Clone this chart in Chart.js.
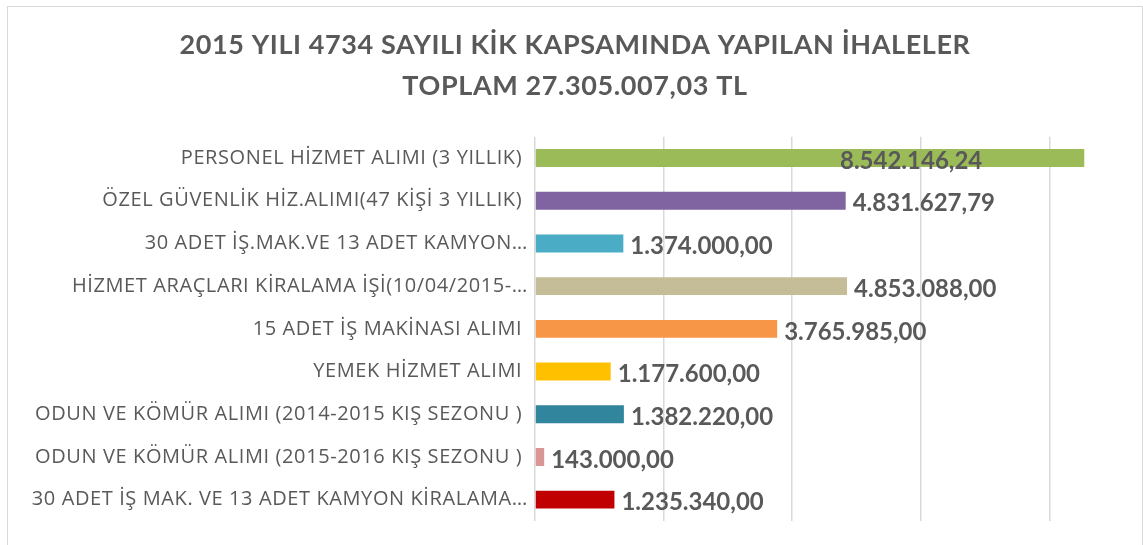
<!DOCTYPE html>
<html lang="tr">
<head>
<meta charset="utf-8">
<title>2015 Yılı 4734 Sayılı KİK Kapsamında Yapılan İhaleler</title>
<script src="https://cdn.jsdelivr.net/npm/chart.js@4"></script>
<style>
    html, body { margin: 0; padding: 0; background: #ffffff; overflow: hidden; }
    #chartBox {
        position: absolute;
        left: 7px;
        top: 6px;
        width: 1134px;
        height: 545px;
        border: 1px solid #d9d9d9;
        background: #ffffff;
    }
</style>
</head>
<body>
<div id="chartBox"><canvas id="ihaleChart"></canvas></div>
<script>
// Chart data
const titleLines = ['2015 YILI 4734 SAYILI KİK KAPSAMINDA YAPILAN İHALELER', 'TOPLAM 27.305.007,03 TL'];

const categories = [
    'PERSONEL HİZMET ALIMI (3 YILLIK) ',
    'ÖZEL GÜVENLİK HİZ.ALIMI(47 KİŞİ 3 YILLIK) ',
    '30 ADET İŞ.MAK.VE 13 ADET KAMYON…',
    'HİZMET ARAÇLARI KİRALAMA İŞİ(10/04/2015-…',
    '15 ADET İŞ MAKİNASI ALIMI ',
    'YEMEK HİZMET ALIMI ',
    'ODUN VE KÖMÜR ALIMI (2014-2015 KIŞ SEZONU ) ',
    'ODUN VE KÖMÜR ALIMI (2015-2016 KIŞ SEZONU ) ',
    '30 ADET İŞ MAK. VE 13 ADET KAMYON KİRALAMA…'
];

const amounts = [8542146.24, 4831627.79, 1374000.00, 4853088.00, 3765985.00, 1177600.00, 1382220.00, 143000.00, 1235340.00];

const barColors = ['#9bbb59', '#8064a2', '#4bacc6', '#c4bd97', '#f79646', '#ffc000', '#31859c', '#d99694', '#c00000'];

// vertical gridlines every 2 million
const gridValues = [0, 2000000, 4000000, 6000000, 8000000];
const axisMax = 9440000;

const textGrey = '#595959';

// Turkish number format: 1.234.567,89
function formatTL(v) {
    const parts = v.toFixed(2).split('.');
    const whole = parts[0].replace(/\B(?=(\d{3})+(?!\d))/g, '.');
    return whole + ',' + parts[1];
}

// the office-style text is a bit airier, widen the letters slightly
const airyText = {
    id: 'airyText',
    beforeDraw(chart) { chart.ctx.letterSpacing = '0.6px'; },
    afterDraw(chart) { chart.ctx.letterSpacing = '0px'; }
};

// Value labels at the bar ends
const valueLabels = {
    id: 'valueLabels',
    afterDatasetsDraw(chart) {
        const ctx = chart.ctx;
        const area = chart.chartArea;
        const meta = chart.getDatasetMeta(0);
        ctx.save();
        ctx.letterSpacing = '0px';
        ctx.font = 'bold 24px Lato';
        ctx.fillStyle = textGrey;
        ctx.textBaseline = 'middle';
        ctx.textAlign = 'left';
        meta.data.forEach((bar, i) => {
            const text = formatTL(amounts[i]);
            const w = ctx.measureText(text).width;
            let x = bar.x + 7;
            if (x + w > area.right) {
                // no room outside, pull the label back onto the bar
                x = bar.x - w - 102;
            }
            ctx.fillText(text, x, bar.y + 3);
        });
        ctx.restore();
    }
};

const ctx = document.getElementById('ihaleChart').getContext('2d');
new Chart(ctx, {
    type: 'bar',
    data: {
        labels: categories,
        datasets: [{
            data: amounts,
            backgroundColor: barColors,
            borderWidth: 0,
            barPercentage: 0.42,
            categoryPercentage: 1.0
        }]
    },
    options: {
        indexAxis: 'y',
        responsive: true,
        maintainAspectRatio: false,
        animation: false,
        layout: {
            padding: { top: 0, right: 0, bottom: 31, left: 0 }
        },
        plugins: {
            legend: { display: false },
            tooltip: { enabled: false },
            title: {
                display: true,
                text: titleLines,
                color: textGrey,
                font: { family: 'Lato', size: 27, weight: 'bold', lineHeight: 1.55 },
                padding: { top: 17, bottom: 29 }
            }
        },
        scales: {
            x: {
                min: 0,
                max: axisMax,
                afterBuildTicks: (scale) => {
                    scale.ticks = gridValues.map(v => ({ value: v }));
                },
                ticks: { display: false },
                grid: {
                    drawTicks: false,
                    lineWidth: 1.5,
                    color: '#d9d9d9'
                },
                border: { display: false }
            },
            y: {
                afterFit: (scale) => { scale.width = 527; },
                grid: { display: false, drawTicks: false },
                border: { display: false },
                ticks: {
                    color: textGrey,
                    padding: 7,
                    autoSkip: false,
                    font: { family: 'Open Sans', size: 20 }
                }
            }
        }
    },
    plugins: [airyText, valueLabels]
});
</script>
</body>
</html>
